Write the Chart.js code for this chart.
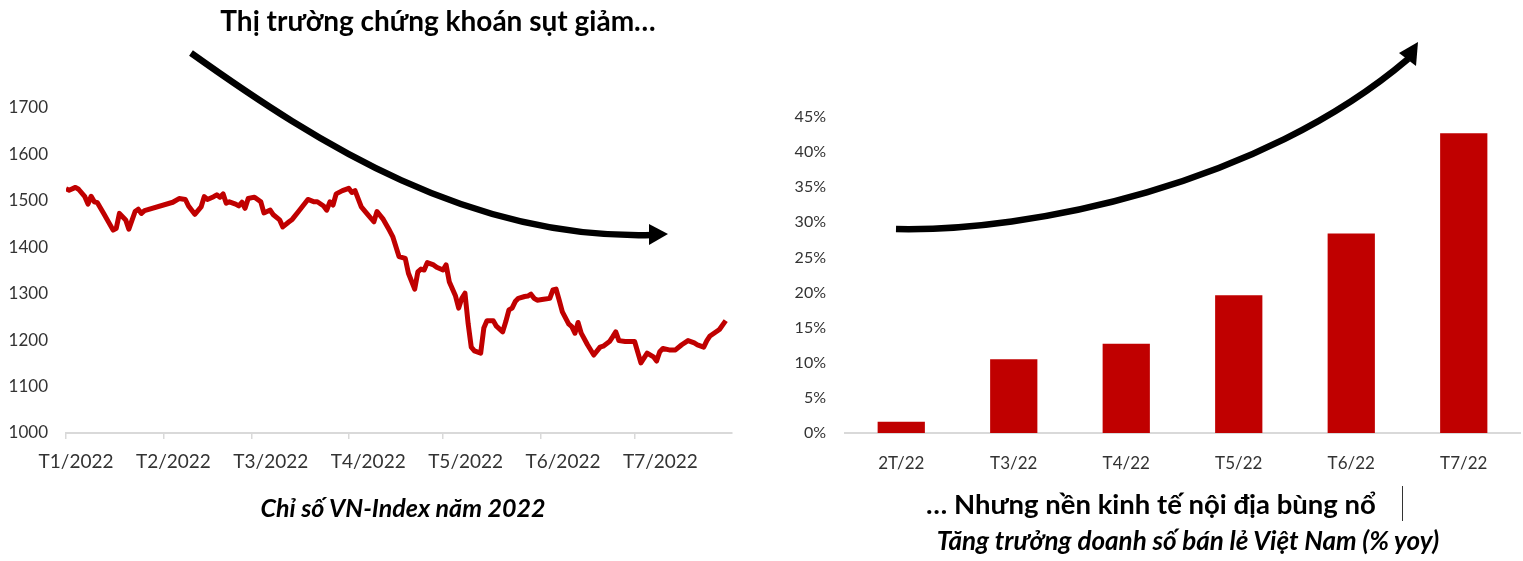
<!DOCTYPE html>
<html>
<head>
<meta charset="utf-8">
<script src="https://cdn.jsdelivr.net/npm/chart.js@4.4.1/dist/chart.umd.min.js"></script>
<style>
  html, body { margin: 0; padding: 0; background: #fff; overflow: hidden; }
  body { width: 1523px; height: 561px; position: relative; font-family: Lato, sans-serif; }
  .box { position: absolute; }
  .txt { position: absolute; transform: translate(-50%, -50%); white-space: nowrap; color: #000; }
</style>
</head>
<body>
<div class="box" style="left:0;top:0;width:750px;height:480px"><canvas id="vnChart"></canvas></div>
<div class="box" style="left:760px;top:0;width:763px;height:480px"><canvas id="retailChart"></canvas></div>
<canvas id="arrows" width="1523" height="561" style="position:absolute;left:0;top:0;pointer-events:none"></canvas>

<div class="txt" style="left:438px;top:20px;font-size:28px;font-weight:700">Thị trường chứng khoán sụt giảm…</div>
<div class="txt" style="left:403px;top:507px;font-size:25px;font-weight:700;font-style:italic">Chỉ số VN-Index năm 2022</div>
<div class="txt" style="left:1151px;top:503px;font-size:27.5px;font-weight:700">… Nhưng nền kinh tế nội địa bùng nổ</div>
<div class="txt" style="left:1188px;top:540px;font-size:26px;font-weight:700;font-style:italic">Tăng trưởng doanh số bán lẻ Việt Nam (% yoy)</div>
<div style="position:absolute;left:1402px;top:486px;height:35px;border-left:1px solid #333"></div>

<script>
// VN-Index, days counted from 04/01/2022
const vnDays = [0, 1, 3, 4, 6, 7, 8, 9, 10, 12, 15, 16, 17, 19, 20, 22, 23, 24, 25,
  34, 36, 38, 39, 41, 43, 44, 45, 47, 48, 49, 50, 51, 52, 54, 55, 56, 57, 58,
  60, 61, 62, 63, 64, 65, 66, 68, 69, 71, 72, 74, 77, 79, 80, 82, 83, 84, 85, 86, 88,
  90, 91, 92, 94, 96, 98, 99, 101, 103, 104, 106, 108, 109, 111, 112, 113, 114, 115, 117, 118,
  120, 121, 122, 124, 125, 126, 127, 128, 129, 130, 132, 133, 134, 136, 137, 139, 140, 141, 142, 143, 144,
  146, 147, 148, 149, 150, 152, 154, 155, 156, 157, 158, 160, 161, 162, 163, 164, 166, 168,
  170, 171, 173, 174, 175, 176, 178, 180, 181, 183, 185, 187, 188, 189, 190, 192, 194, 196, 198,
  200, 201, 203, 204, 205, 208, 210];
const vnIndex = [1526, 1523, 1529, 1525, 1509, 1493, 1510, 1498, 1496, 1473, 1437, 1441, 1473, 1459, 1439, 1477, 1482, 1473, 1479,
  1497, 1505, 1503, 1489, 1471, 1487, 1509, 1503, 1509, 1513, 1508, 1515, 1495, 1498, 1493, 1489, 1497, 1484, 1505,
  1508, 1503, 1498, 1474, 1477, 1480, 1470, 1459, 1444, 1455, 1460, 1477, 1503, 1498, 1498, 1489, 1480, 1498, 1491, 1515, 1522,
  1527, 1518, 1522, 1487, 1471, 1455, 1477, 1460, 1436, 1423, 1380, 1376, 1344, 1310, 1347, 1353, 1351, 1367, 1362, 1357,
  1351, 1362, 1326, 1295, 1269, 1290, 1301, 1236, 1185, 1177, 1172, 1226, 1242, 1242, 1230, 1218, 1240, 1265, 1269, 1283, 1290,
  1294, 1295, 1299, 1290, 1286, 1288, 1290, 1308, 1310, 1286, 1261, 1235, 1229, 1215, 1238, 1215, 1190, 1168,
  1185, 1187, 1197, 1207, 1218, 1199, 1197, 1197, 1197, 1151, 1172, 1164, 1155, 1175, 1182, 1179, 1179, 1190, 1199,
  1194, 1190, 1185, 1199, 1209, 1223, 1242];
const monthTicks = [0, 31, 59, 90, 120, 151, 181];
const monthLabels = ['T1/2022', 'T2/2022', 'T3/2022', 'T4/2022', 'T5/2022', 'T6/2022', 'T7/2022'];

// Retail sales growth (% yoy)
const retailLabels = ['2T/22', 'T3/22', 'T4/22', 'T5/22', 'T6/22', 'T7/22'];
const retailGrowth = [1.6, 10.5, 12.7, 19.6, 28.4, 42.7];

const red = '#C00000';
const axisGrey = '#d9d9d9';
const tickColor = '#333';

// month labels sit evenly spaced, a little right of the tick marks
const labelAt = monthLabels.map((_, i) => 3.2 + 31 * i);

new Chart(document.getElementById('vnChart'), {
  type: 'line',
  data: {
    datasets: [{
      data: vnDays.map((d, i) => ({ x: d, y: vnIndex[i] })),
      borderColor: red,
      borderWidth: 5,
      borderJoinStyle: 'round',
      pointRadius: 0,
      tension: 0
    }]
  },
  options: {
    responsive: true,
    maintainAspectRatio: false,
    animation: false,
    layout: { padding: { top: 108, left: 0, right: 18, bottom: 0 } },
    plugins: { legend: { display: false }, tooltip: { enabled: false } },
    scales: {
      x: {
        type: 'linear',
        min: 0,
        max: 212,
        afterBuildTicks: s => { s.ticks = monthTicks.map(v => ({ value: v })); },
        afterFit: s => { s.height = 8; },
        grid: { drawOnChartArea: false, drawTicks: true, tickLength: 6, color: axisGrey, lineWidth: 1.5 },
        border: { color: axisGrey, width: 2 },
        ticks: { autoSkip: false, maxRotation: 0, callback: () => '' }
      },
      xLabels: {
        type: 'linear',
        position: 'bottom',
        min: 0,
        max: 212,
        afterBuildTicks: s => { s.ticks = labelAt.map(v => ({ value: v })); },
        afterFit: s => { s.height = 39; },
        grid: { display: false, drawTicks: false },
        border: { display: false },
        ticks: {
          autoSkip: false,
          maxRotation: 0,
          padding: 9,
          color: tickColor,
          font: { family: 'Lato', size: 19 },
          callback: v => monthLabels[labelAt.indexOf(v)]
        }
      },
      y: {
        min: 1000,
        max: 1700,
        afterFit: s => { s.width = 66; },
        grid: { display: false, drawTicks: false },
        border: { display: false },
        ticks: { stepSize: 100, padding: 18, color: tickColor, font: { family: 'Lato', size: 17 }, callback: v => String(v) }
      }
    }
  }
});

new Chart(document.getElementById('retailChart'), {
  type: 'bar',
  data: {
    labels: retailLabels,
    datasets: [{
      data: retailGrowth,
      backgroundColor: red,
      barPercentage: 0.42,
      categoryPercentage: 1
    }]
  },
  options: {
    responsive: true,
    maintainAspectRatio: false,
    animation: false,
    layout: { padding: { top: 117, left: 0, right: 3, bottom: 0 } },
    plugins: { legend: { display: false }, tooltip: { enabled: false } },
    scales: {
      x: {
        afterFit: s => { s.height = 47; },
        grid: { display: false, drawTicks: false },
        border: { color: axisGrey, width: 2 },
        ticks: { padding: 20, color: tickColor, font: { family: 'Lato', size: 17 } }
      },
      y: {
        min: 0,
        max: 45,
        afterFit: s => { s.width = 85; },
        grid: { display: false, drawTicks: false },
        border: { display: false },
        ticks: { stepSize: 5, padding: 19, color: tickColor, font: { family: 'Lato', size: 16 }, callback: v => v + '%' }
      }
    }
  }
});

// decorative trend arrows
const ctx = document.getElementById('arrows').getContext('2d');
ctx.strokeStyle = '#000';
ctx.fillStyle = '#000';
ctx.lineWidth = 6.5;
ctx.lineCap = 'butt';

ctx.beginPath();
ctx.moveTo(191, 53);
ctx.bezierCurveTo(320, 145, 470, 240, 652, 235);
ctx.stroke();
ctx.beginPath();
ctx.moveTo(668, 234);
ctx.lineTo(649, 224);
ctx.lineTo(649, 245);
ctx.closePath();
ctx.fill();

ctx.beginPath();
ctx.moveTo(896, 229);
ctx.bezierCurveTo(1030, 232, 1260, 185, 1408, 59);
ctx.stroke();
ctx.beginPath();
ctx.moveTo(1418, 42);
ctx.lineTo(1399, 53);
ctx.lineTo(1416, 66);
ctx.closePath();
ctx.fill();
</script>
</body>
</html>
